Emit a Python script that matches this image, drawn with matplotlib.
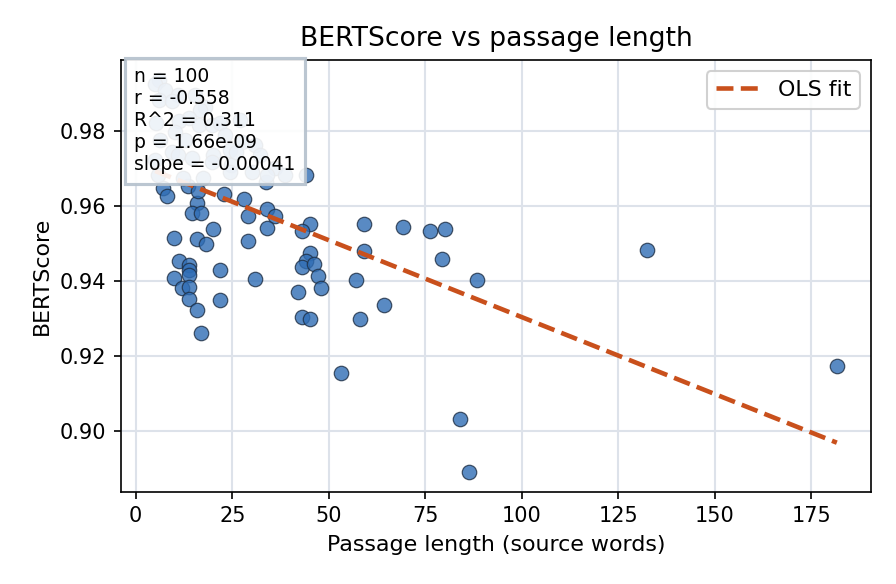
import numpy as np
import matplotlib
matplotlib.use("Agg")
import matplotlib.pyplot as plt

# Passage length (source words) and BERTScore for each passage
passage_len = [
    7.0, 8.0, 15.9, 14.7, 17.0, 22.8, 28.0, 29.1, 34.0, 36.1,
    34.0, 20.1, 10.0, 15.9, 18.1, 29.1, 45.1, 43.0, 45.1, 44.0,
    43.0, 46.2, 47.2, 47.9, 42.0, 43.0, 45.1, 11.1, 13.9, 13.9,
    10.0, 13.9, 12.0, 13.9, 13.9, 15.9, 17.0, 21.9, 30.9, 21.9,
    44.0, 59.1, 69.2, 76.1, 80.2, 79.3, 59.1, 57.0, 64.3, 58.0,
    88.3, 53.1, 84.1, 86.2, 132.5, 181.6, 13.5, 16.0, 33.8,
    6.0, 5.0, 7.6, 10.9, 5.9, 9.4, 17.9, 16.6, 13.7, 11.1,
    16.3, 5.2, 19.7, 21.8, 23.1, 27.4, 30.9, 9.3, 10.9, 14.5,
    20.0, 19.7, 24.8, 30.0, 36.0, 38.6, 5.8, 24.4, 12.2, 17.4,
    33.9, 12.7, 6.3, 24.4, 15.3, 27.0, 10.2, 32.1, 5.0, 26.0,
]
bertscore = [
    0.9647, 0.9626, 0.9608, 0.9580, 0.9580, 0.9633, 0.9618, 0.9574, 0.9593, 0.9572,
    0.9542, 0.9539, 0.9515, 0.9513, 0.9499, 0.9507, 0.9553, 0.9532, 0.9475, 0.9453,
    0.9438, 0.9446, 0.9414, 0.9381, 0.9371, 0.9302, 0.9298, 0.9452, 0.9441, 0.9429,
    0.9408, 0.9416, 0.9380, 0.9383, 0.9352, 0.9322, 0.9261, 0.9428, 0.9405, 0.9350,
    0.9682, 0.9553, 0.9545, 0.9532, 0.9539, 0.9459, 0.9479, 0.9403, 0.9336, 0.9298,
    0.9403, 0.9153, 0.9030, 0.8889, 0.9481, 0.9173, 0.9652, 0.9640, 0.9663,
    0.9937, 0.9925, 0.9910, 0.9897, 0.9884, 0.9881, 0.9865, 0.9857, 0.9835, 0.9827,
    0.9817, 0.9822, 0.9816, 0.9822, 0.9790, 0.9772, 0.9763, 0.9745, 0.9736, 0.9727,
    0.9736, 0.9718, 0.9709, 0.9691, 0.9701, 0.9682, 0.9682, 0.9690, 0.9674, 0.9674,
    0.9682, 0.9776, 0.9776, 0.9750, 0.9897, 0.9830, 0.9797, 0.9736, 0.9723, 0.9745,
]

# OLS fit
fit_slope = -0.000411
fit_intercept = 0.9714

stats_lines = [
    "n = 100",
    "r = -0.558",
    "R^2 = 0.311",
    "p = 1.66e-09",
    "slope = -0.00041",
]

x = np.array(passage_len)
y = np.array(bertscore)

fig = plt.figure(figsize=(896 / 150, 584 / 150), dpi=150)
ax = fig.add_axes([0.135, 0.158, 0.837, 0.739])

ax.grid(True, color="#dde2ea", linewidth=1.0, zorder=0)
ax.set_axisbelow(True)

ax.scatter(x, y, s=48, color="#2f6db5", alpha=0.8, edgecolors="#1e2f45",
           linewidths=0.6, zorder=3)

xs = np.array([x.min(), x.max()])
ax.plot(xs, fit_intercept + fit_slope * xs, linestyle="--", color="#c9501c",
        linewidth=2.2, label="OLS fit", zorder=4)

ax.set_title("BERTScore vs passage length", fontsize=12.8, pad=7)
ax.set_xlabel("Passage length (source words)", fontsize=10.6)
ax.set_ylabel("BERTScore", fontsize=10.6)
ax.tick_params(labelsize=10)

ax.legend(loc="upper right", fontsize=10.6, framealpha=0.9)

ax.text(0.018, 0.983, "\n".join(stats_lines), transform=ax.transAxes,
        fontsize=9, va="top", ha="left", zorder=6,
        bbox=dict(boxstyle="square,pad=0.5", facecolor="white", alpha=0.9,
                  edgecolor="#b4c0cc", linewidth=1.5))

fig.savefig("out.png", dpi=150)
